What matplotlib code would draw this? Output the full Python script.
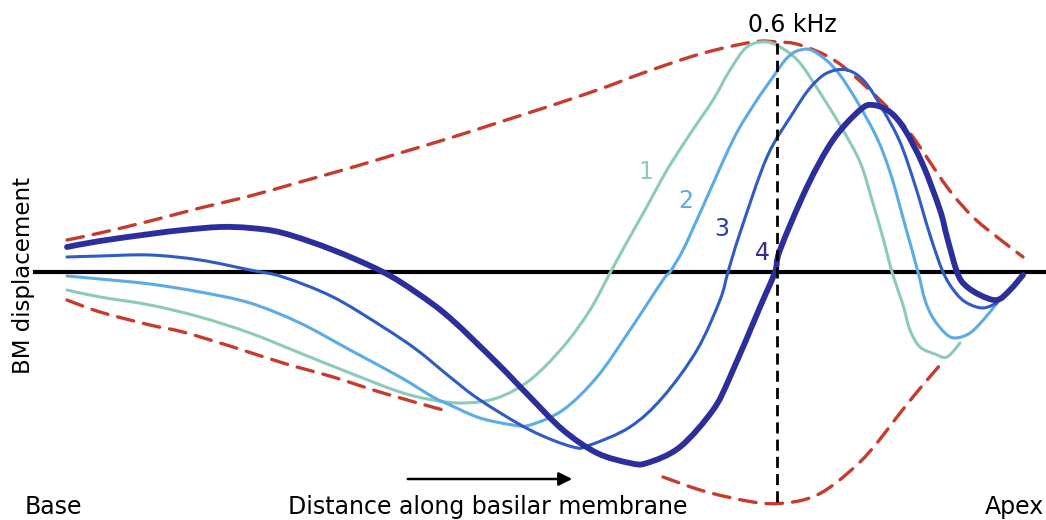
import numpy as np
import matplotlib.pyplot as plt
from matplotlib.path import Path
from matplotlib.patches import PathPatch

# travelling wave snapshots along the basilar membrane
# x = distance (image units), y = height in image units, 272 = resting line
ZERO = 272

x1 = [67, 100, 150, 200, 250, 300, 350, 400, 433, 463, 497, 530, 563, 590, 610, 627, 645, 667,
      690, 713, 730, 747, 767, 785, 800, 817, 840, 860, 872, 883, 892, 903, 910, 920, 935, 947, 960]
y1 = [290, 297, 305, 317, 333, 353, 373, 392, 400, 403, 398, 380, 347, 310, 273, 242, 210, 170,
      134, 100, 70, 47, 42, 50, 63, 88, 125, 162, 200, 238, 272, 305, 330, 347, 354, 357, 343]

x2 = [67, 100, 150, 200, 250, 300, 350, 400, 433, 450, 480, 513, 530, 563, 597, 630, 663, 670,
      683, 700, 733, 755, 773, 787, 800, 815, 840, 873, 890, 905, 918, 925, 933, 945, 955, 970,
      985, 997]
y2 = [276, 279, 284, 292, 303, 323, 350, 377, 397, 405, 418, 425, 425, 410, 377, 330, 280, 272,
      250, 213, 140, 103, 77, 58, 50, 52, 75, 130, 172, 225, 272, 300, 318, 333, 338, 333,
      318, 303]

x3 = [67, 100, 150, 200, 250, 283, 333, 383, 417, 450, 480, 530, 573, 590, 630, 663, 697, 720,
      728, 740, 767, 793, 810, 827, 847, 865, 883, 900, 915, 930, 943, 955, 967, 983, 997]
y3 = [257, 256, 255, 260, 270, 277, 297, 327, 350, 377, 400, 430, 447, 445, 427, 397, 350, 300,
      272, 233, 157, 113, 88, 73, 70, 82, 110, 142, 185, 235, 272, 292, 303, 308, 303]

x4 = [67, 100, 150, 183, 220, 250, 283, 333, 383, 417, 450, 497, 530, 563, 597, 630, 647, 680,
      713, 730, 760, 775, 780, 807, 833, 860, 873, 890, 905, 923, 940, 947, 957, 965, 980, 997,
      1010, 1023]
y4 = [247, 241, 234, 230, 227, 228, 233, 250, 272, 293, 318, 363, 397, 430, 453, 463, 463, 447,
      410, 377, 307, 272, 250, 187, 140, 110, 105, 112, 130, 165, 210, 237, 272, 285, 295, 300,
      290, 275]

env_up_x = [67, 100, 150, 200, 250, 300, 350, 400, 450, 500, 550, 603, 643, 700, 753, 777, 800,
            837, 880, 910, 947, 973, 997, 1023]
env_up_y = [240, 233, 221, 208, 196, 182, 168, 153, 138, 122, 106, 88, 73, 54, 42, 42, 45,
            62, 100, 133, 187, 217, 237, 257]
env_lo1_x = [67, 100, 150, 183, 233, 283, 333, 383, 443]
env_lo1_y = [300, 312, 325, 332, 347, 363, 377, 393, 410]
env_lo2_x = [663, 707, 760, 793, 817, 837, 860, 877, 897, 917, 940]
env_lo2_y = [477, 492, 503, 502, 495, 482, 462, 443, 417, 392, 365]

colors = ['#8dcbb9', '#5cabe4', '#2f5cc4', '#2c2e9c']
widths = [2.2, 2.2, 2.2, 4.2]
labels = ['1', '2', '3', '4']
label_x = [646, 686, 722, 762]
label_y = [172, 201, 229, 253]
label_colors = ['#8dcbb9', '#5cabe4', '#2f3fa8', '#3a2a8a']

red = '#c83a2c'


def disp(py):
    return ZERO - np.asarray(py, dtype=float)


def smooth_path(xs, ys):
    # cubic bezier through the read points (catmull-rom tangents), drawn by matplotlib
    p = np.column_stack([xs, disp(ys)]).astype(float)
    verts = [p[0]]
    codes = [Path.MOVETO]
    for i in range(len(p) - 1):
        p0 = p[i - 1] if i > 0 else p[i]
        p3 = p[i + 2] if i + 2 < len(p) else p[i + 1]
        c1 = p[i] + (p[i + 1] - p0) / 6
        c2 = p[i + 1] - (p3 - p[i]) / 6
        verts += [c1, c2, p[i + 1]]
        codes += [Path.CURVE4] * 3
    return Path(verts, codes)


def draw_curve(ax, xs, ys, **kw):
    patch = PathPatch(smooth_path(xs, ys), fill=False, capstyle='round', joinstyle='round', **kw)
    ax.add_patch(patch)


fig = plt.figure(figsize=(10.46, 5.2), dpi=100)
ax = fig.add_axes([0, 0, 1, 1])
ax.set_xlim(0, 1046)
ax.set_ylim(ZERO - 520, ZERO)
ax.axis('off')
plt.rcParams['font.family'] = ['DejaVu Sans']

# envelope
for ex, ey in [(env_up_x, env_up_y), (env_lo1_x, env_lo1_y), (env_lo2_x, env_lo2_y)]:
    draw_curve(ax, ex, ey, edgecolor=red, lw=2.4, linestyle=(0, (5, 3)), zorder=1)

# resting position
ax.plot([35, 1046], [0, 0], color='black', lw=3, zorder=2)

for xs, ys, c, w in zip([x1, x2, x3, x4], [y1, y2, y3, y4], colors, widths):
    draw_curve(ax, xs, ys, edgecolor=c, lw=w, zorder=3)

for lab, lx, ly, c in zip(labels, label_x, label_y, label_colors):
    ax.text(lx, disp(ly), lab, color=c, fontsize=17, ha='center', va='center', zorder=5)

# characteristic place marker
ax.plot([777, 777], disp([43, 505]), color='black', lw=2, dashes=(4, 2.2), zorder=4)
ax.text(792, disp(25), '0.6 kHz', fontsize=17, ha='center', va='center')

ax.text(25, disp(507), 'Base', fontsize=17, ha='left', va='center')
ax.text(288, disp(507), 'Distance along basilar membrane', fontsize=17, ha='left', va='center')
ax.text(1044, disp(507), 'Apex', fontsize=17, ha='right', va='center')
ax.text(24, disp(275), 'BM displacement', fontsize=16.5, rotation=90, ha='center', va='center')

ax.annotate('', xy=(575, disp(479)), xytext=(405, disp(479)),
            arrowprops=dict(arrowstyle='-|>', color='black', lw=1.8, mutation_scale=20))

fig.savefig('out.png', dpi=100)
